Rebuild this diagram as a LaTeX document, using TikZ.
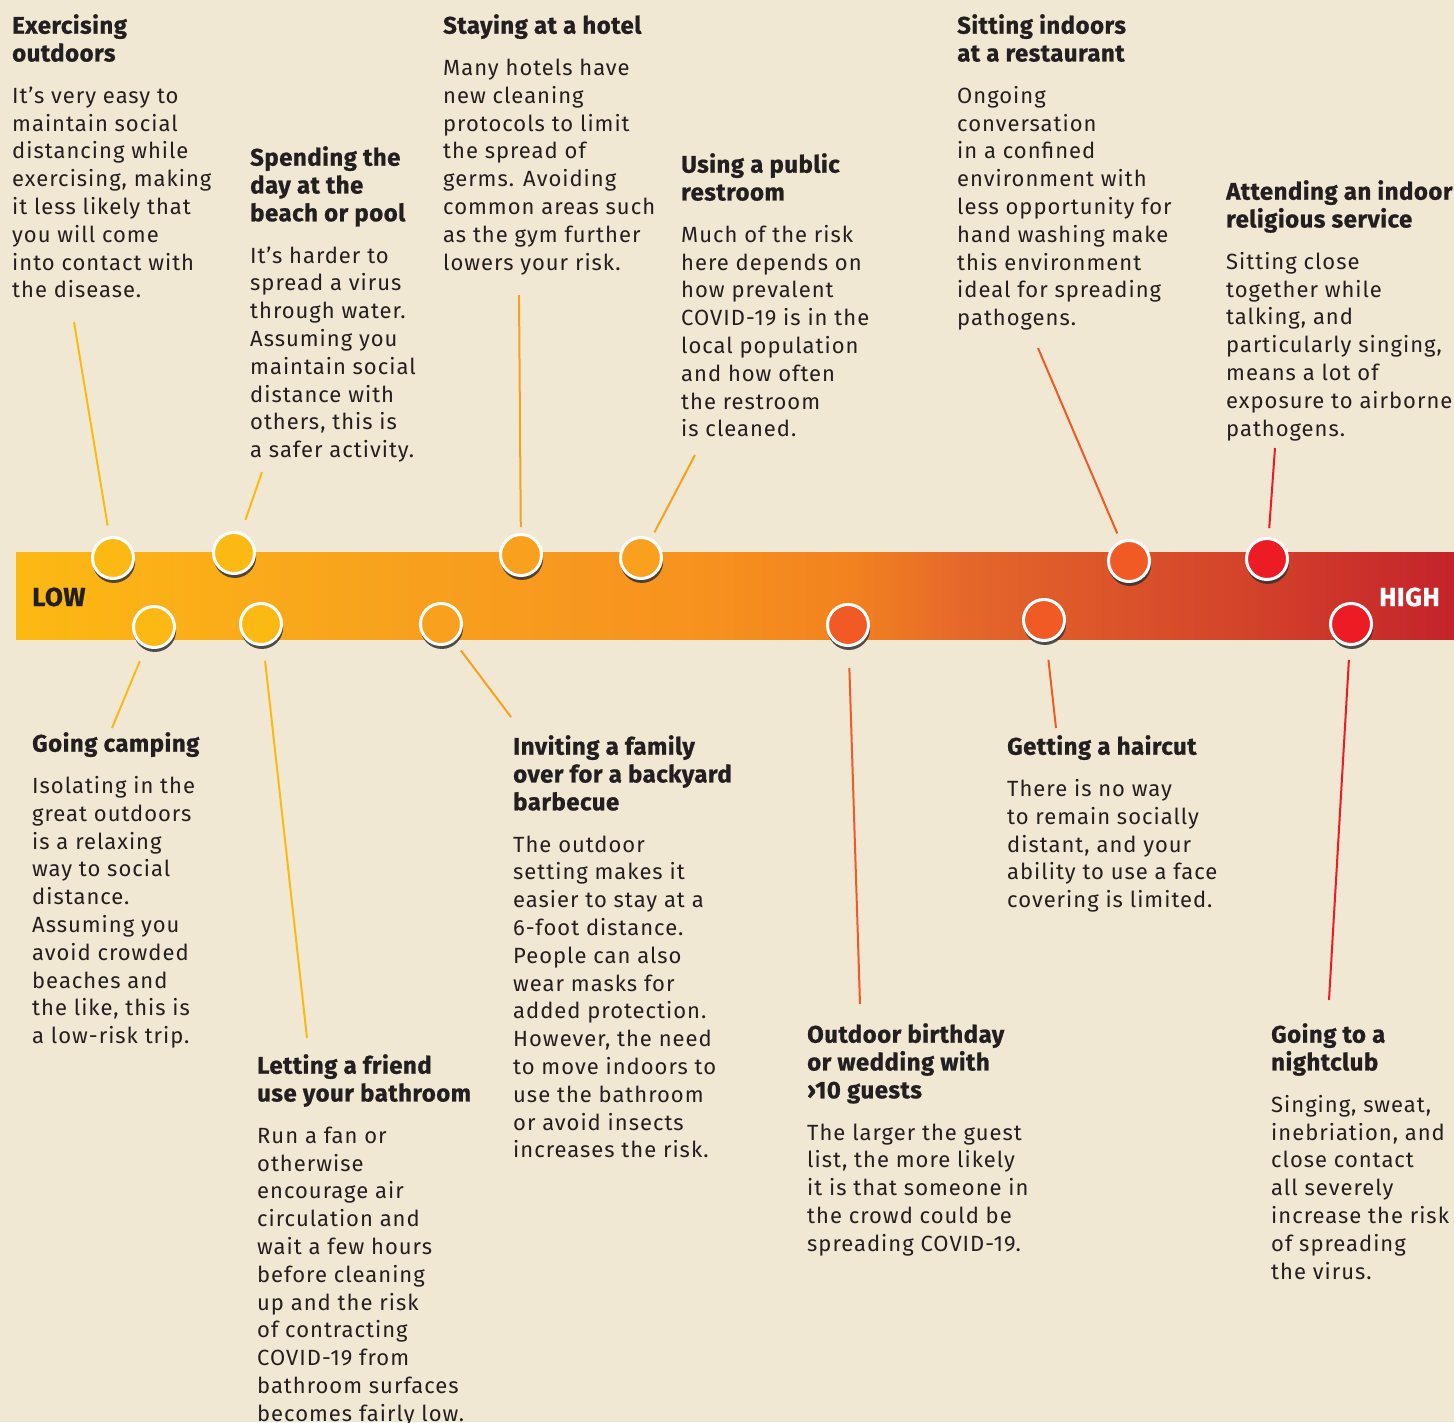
\documentclass[tikz,border=0pt]{standalone}
\usepackage{fontspec}
\setmainfont{Fira Sans}[LetterSpace=4.5, BoldFeatures={LetterSpace=2, FakeBold=0.8}]
\usetikzlibrary{positioning, shadows}

\definecolor{paper}{HTML}{F1E8D3}
\definecolor{ink}{HTML}{231F20}
\definecolor{riskA}{HTML}{FDB913}
\definecolor{riskB}{HTML}{F9A11F}
\definecolor{riskC}{HTML}{F15A24}
\definecolor{riskD}{HTML}{ED1C24}
\definecolor{barA}{HTML}{FDB913}
\definecolor{barB}{HTML}{F8A11E}
\definecolor{barC}{HTML}{F7921E}
\definecolor{barD}{HTML}{F2821F}
\definecolor{barE}{HTML}{E5682A}
\definecolor{barF}{HTML}{D3422A}
\definecolor{barG}{HTML}{C4232B}

\newcommand\cardhead[1]{{\fontsize{24}{28}\selectfont\bfseries #1}}

\begin{document}
\begin{tikzpicture}[x=1pt, y=-1pt]
\tikzstyle{card} = [anchor=north west, inner sep=0pt, align=left, text=ink, font=\fontsize{22}{27.8}\selectfont]
\tikzstyle{dot} = [circle, draw=white, line width=3pt, minimum size=41pt, inner sep=0pt,
  drop shadow={shadow xshift=0.8pt, shadow yshift=-3.5pt, shadow scale=1.04, fill=black!80, opacity=0.85}]
\tikzstyle{lead} = [line width=2pt]
\tikzstyle{ends} = [inner sep=0pt, font=\fontsize{26}{26}\selectfont\bfseries\addfontfeatures{LetterSpace=-2}]

\useasboundingbox (0,0) rectangle (1454,1422);
\fill[paper] (0,0) rectangle (1454,1422);

% risk bar, low to high
\foreach \xa/\xb/\ca/\cb in {16/400/barA/barB, 400/700/barB/barC, 700/850/barC/barD,
    850/960/barD/barE, 960/1250/barE/barF, 1250/1454/barF/barG}
  \fill[left color=\ca, right color=\cb] (\xa,552) rectangle (\xb+1,639);

\node[ends, anchor=base west, text=ink] (low) at (32,606) {LOW};
\node[ends, anchor=base east, text=white] (high) at (1440,606) {HIGH};

% activities above the bar
\node[dot, fill=riskA] (c1) at (113,558) {};
\node[dot, fill=riskA] (c2) at (234,553) {};
\node[dot, fill=riskB] (c3) at (521,555) {};
\node[dot, fill=riskB] (c4) at (641,558) {};
\node[dot, fill=riskC] (c5) at (1129,561) {};
\node[dot, fill=riskD] (c6) at (1267,559) {};
% activities below the bar
\node[dot, fill=riskA] (d1) at (154,627) {};
\node[dot, fill=riskA] (d2) at (261,624) {};
\node[dot, fill=riskB] (d3) at (441,624) {};
\node[dot, fill=riskC] (d4) at (848,625) {};
\node[dot, fill=riskC] (d5) at (1044,620) {};
\node[dot, fill=riskD] (d6) at (1351,624) {};

\coordinate (c1t) at (74,322);
\coordinate (c2t) at (262,472);
\coordinate (c3t) at (519,295);
\coordinate (c4t) at (695,455);
\coordinate (c5t) at (1038,348);
\coordinate (c6t) at (1275,448);
\coordinate (d1t) at (112,728);
\coordinate (d2t) at (307,1038);
\coordinate (d3t) at (511,717);
\coordinate (d4t) at (860,1004);
\coordinate (d5t) at (1056,728);
\coordinate (d6t) at (1329,1000);

\foreach \n/\g/\c in {c1/11/riskA, c2/13/riskA, c3/6/riskB, c4/7/riskB, c5/8/riskC, c6/9/riskD,
    d1/15/riskA, d2/15/riskA, d3/11/riskB, d4/21/riskC, d5/18/riskC, d6/14/riskD}
  \draw[lead, \c, shorten >=\g pt] (\n t) -- (\n);

\node[card] (exercise) at (12,14) {\cardhead{Exercising}\\\cardhead{outdoors}\\[14pt]
  It’s very easy to\\maintain social\\distancing while\\exercising, making\\it less likely that\\you will come\\into contact with\\the disease.};
\node[card] (beach) at (250,146) {\cardhead{Spending the}\\\cardhead{day at the}\\\cardhead{beach or pool}\\[14pt]
  It’s harder to\\spread a virus\\through water.\\Assuming you\\maintain social\\distance with\\others, this is\\a safer activity.};
\node[card] (hotel) at (443,14) {\cardhead{Staying at a hotel}\\[14pt]
  Many hotels have\\new cleaning\\protocols to limit\\the spread of\\germs. Avoiding\\common areas such\\as the gym further\\lowers your risk.};
\node[card] (restroom) at (681,153) {\cardhead{Using a public}\\\cardhead{restroom}\\[14pt]
  Much of the risk\\here depends on\\how prevalent\\COVID-19 is in the\\local population\\and how often\\the restroom\\is cleaned.};
\node[card] (restaurant) at (957,14) {\cardhead{Sitting indoors}\\\cardhead{at a restaurant}\\[14pt]
  Ongoing\\conversation\\in a confined\\environment with\\less opportunity for\\hand washing make\\this environment\\ideal for spreading\\pathogens.};
\node[card] (church) at (1226,180) {\cardhead{Attending an indoor}\\\cardhead{religious service}\\[14pt]
  Sitting close\\together while\\talking, and\\particularly singing,\\means a lot of\\exposure to airborne\\pathogens.};

\node[card] (camping) at (32,732) {\cardhead{Going camping}\\[14pt]
  Isolating in the\\great outdoors\\is a relaxing\\way to social\\distance.\\Assuming you\\avoid crowded\\beaches and\\the like, this is\\a low-risk trip.};
\node[card] (bathroom) at (257,1054) {\cardhead{Letting a friend}\\\cardhead{use your bathroom}\\[14pt]
  Run a fan or\\otherwise\\encourage air\\circulation and\\wait a few hours\\before cleaning\\up and the risk\\of contracting\\COVID-19 from\\bathroom surfaces\\becomes fairly low.};
\node[card] (barbecue) at (513,735) {\cardhead{Inviting a family}\\\cardhead{over for a backyard}\\\cardhead{barbecue}\\[14pt]
  The outdoor\\setting makes it\\easier to stay at a\\6-foot distance.\\People can also\\wear masks for\\added protection.\\However, the need\\to move indoors to\\use the bathroom\\or avoid insects\\increases the risk.};
\node[card] (wedding) at (807,1023) {\cardhead{Outdoor birthday}\\\cardhead{or wedding with}\\\cardhead{›10 guests}\\[14pt]
  The larger the guest\\list, the more likely\\it is that someone in\\the crowd could be\\spreading COVID-19.};
\node[card] (haircut) at (1007,735) {\cardhead{Getting a haircut}\\[14pt]
  There is no way\\to remain socially\\distant, and your\\ability to use a face\\covering is limited.};
\node[card] (nightclub) at (1271,1023) {\cardhead{Going to a}\\\cardhead{nightclub}\\[14pt]
  Singing, sweat,\\inebriation, and\\close contact\\all severely\\increase the risk\\of spreading\\the virus.};
\end{tikzpicture}
\end{document}
